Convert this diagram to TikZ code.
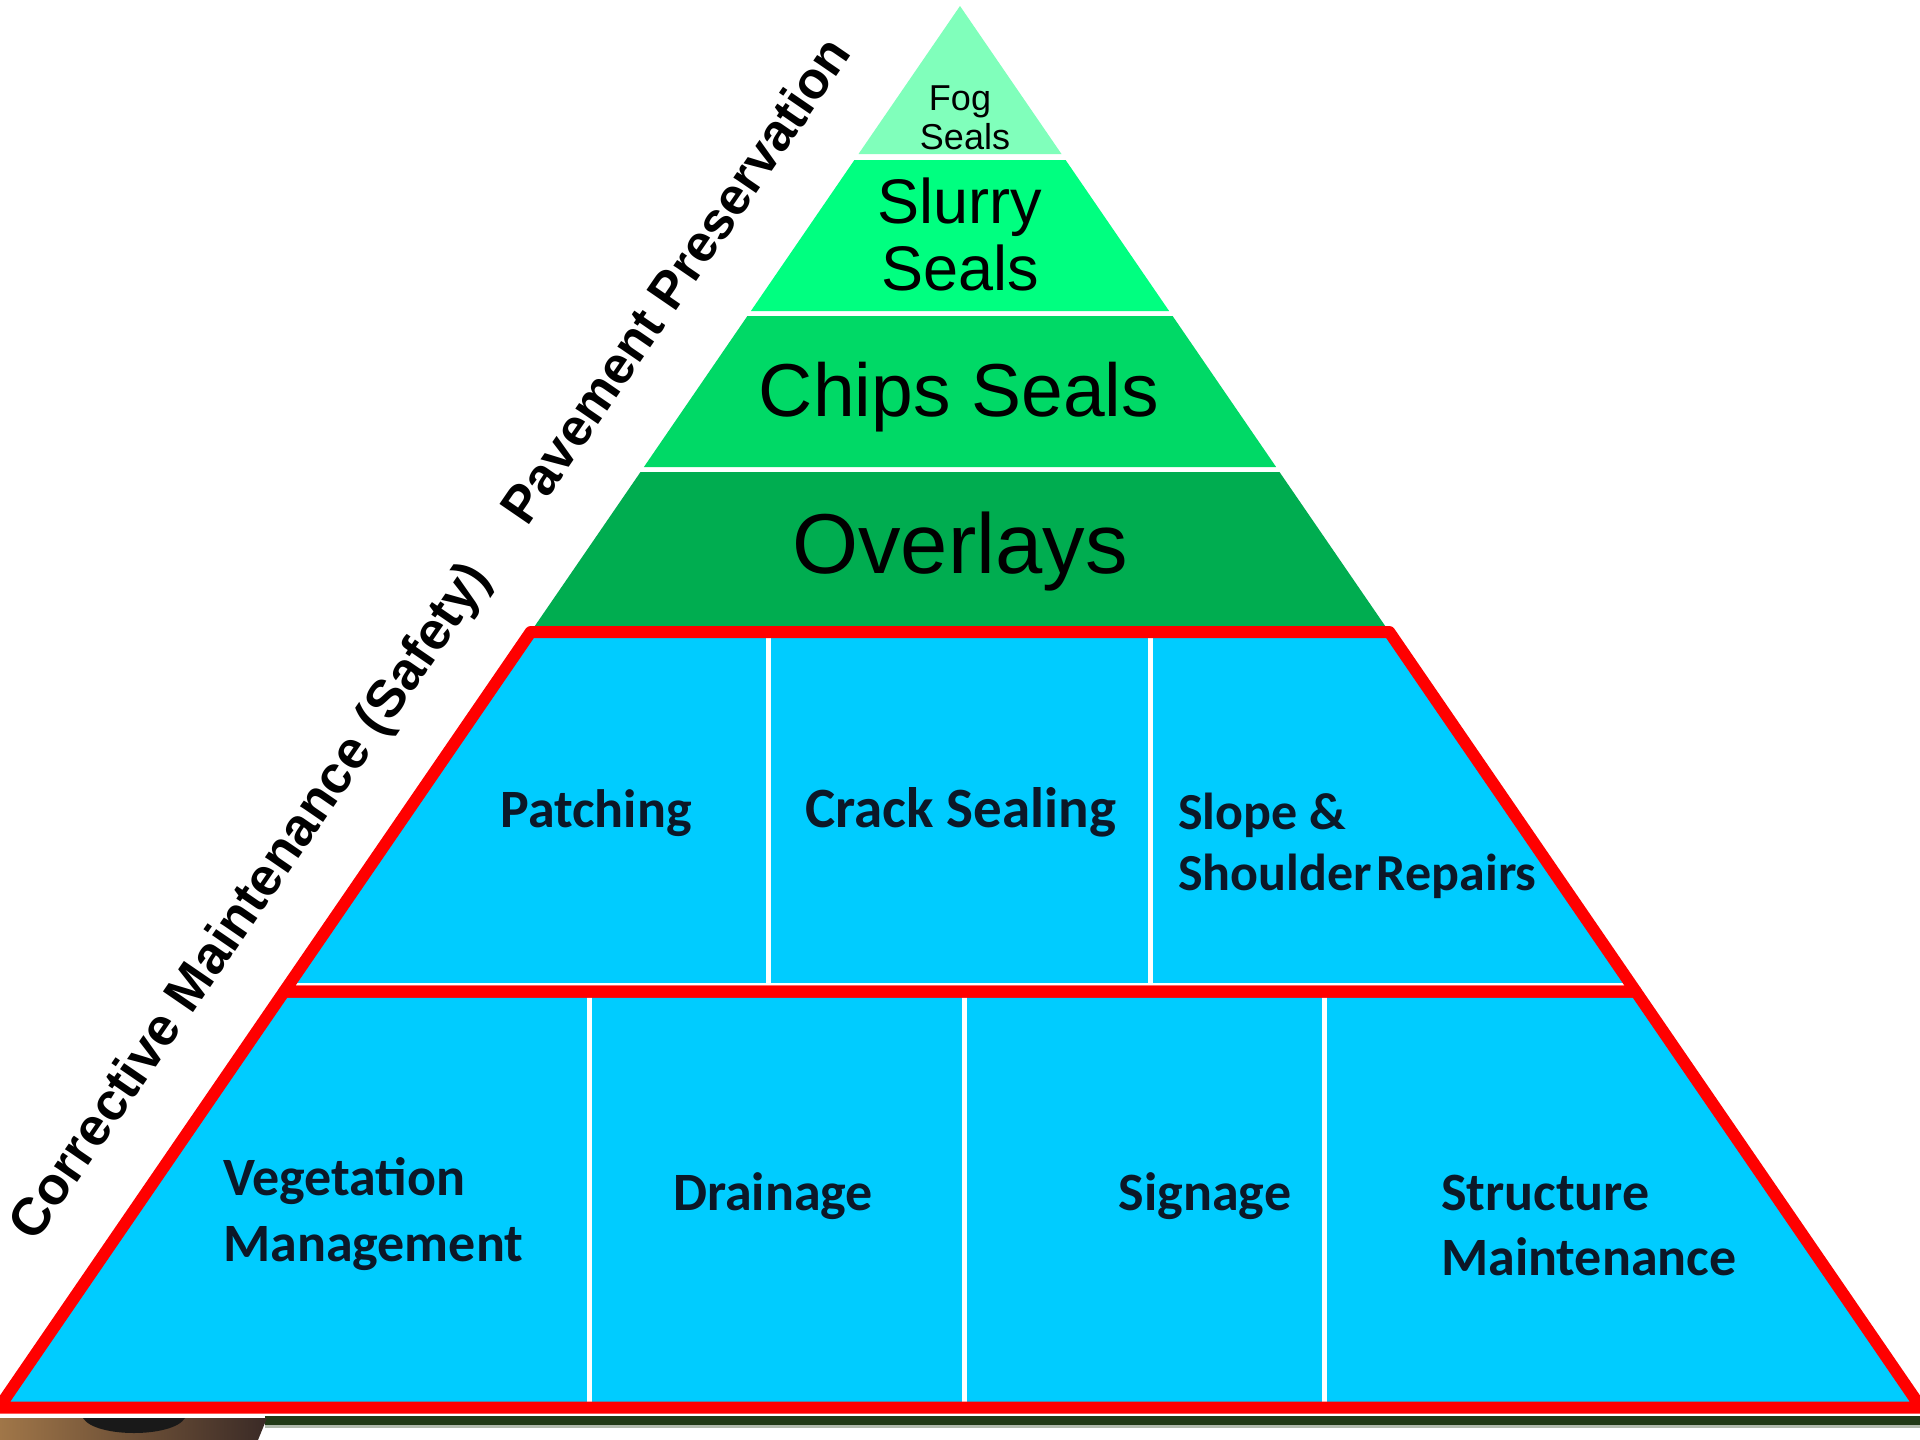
\documentclass[tikz,border=0pt]{standalone}
\usepackage{fontspec}
\setmainfont{Liberation Sans}
\newfontfamily\cellfont{Carlito}

\definecolor{fogc}{RGB}{128,255,187}
\definecolor{slurryc}{RGB}{0,255,128}
\definecolor{chipsc}{RGB}{0,217,102}
\definecolor{overc}{RGB}{0,173,80}
\definecolor{cellc}{RGB}{0,204,255}
\definecolor{cellshade}{RGB}{120,225,255}
\definecolor{framec}{RGB}{255,0,0}
\definecolor{ink}{RGB}{12,24,40}
\definecolor{groundc}{RGB}{33,58,22}
\definecolor{brownL}{RGB}{160,118,72}
\definecolor{brownR}{RGB}{58,42,38}

\tikzset{
  layertext/.style={inner sep=0pt, anchor=base, text=black},
  celltext/.style={inner sep=0pt, text=ink,
    font=\cellfont\bfseries\fontsize{54}{60}\selectfont},
  sidetext/.style={inner sep=0pt, text=black, rotate=55.56,
    font=\bfseries\fontsize{53}{60}\selectfont},
  redframe/.style={draw=framec, line width=12pt, line join=round},
  divider/.style={draw=white, line width=5pt},
}

\begin{document}
\begin{tikzpicture}[x=1pt,y=-1pt]
  % page
  \fill[white] (0,0) rectangle (1920,1440);
  \path[use as bounding box] (0,0) rectangle (1920,1440);

  % corners of the maintenance block (on the pyramid flanks)
  \coordinate (mtl) at (530.7,632);
  \coordinate (mtr) at (1389.3,632);
  \coordinate (mml) at (284.2,991.5);
  \coordinate (mmr) at (1635.8,991.5);
  \coordinate (mbl) at (-1,1407.5);
  \coordinate (mbr) at (1921,1407.5);

  % soft cyan glow along the right flank
  \fill[cellshade, xshift=12pt] (mtl) -- (mtr) -- (mbr) -- (mbl) -- cycle;
  % blue maintenance block
  \fill[cellc] (mtl) -- (mtr) -- (mbr) -- (mbl) -- cycle;

  % cell dividers
  \draw[divider] (768,636) -- (768,988);
  \draw[divider] (1150,636) -- (1150,988);
  \draw[divider] (589,995) -- (589,1404);
  \draw[divider] (964,995) -- (964,1404);
  \draw[divider] (1324,995) -- (1324,1404);
  \draw[white, line width=3pt] (289,984) -- (1631,984);

  % preservation layers
  \fill[fogc]    (960,6) -- (1061.5,154) -- (858.5,154) -- cycle;
  \fill[slurryc] (854.4,160) -- (1065.6,160) -- (1169.1,311) -- (750.9,311) -- cycle;
  \fill[chipsc]  (747.4,316) -- (1172.6,316) -- (1276.1,467) -- (643.9,467) -- cycle;
  \fill[overc]   (640.5,472) -- (1279.5,472) -- (1389.3,632) -- (530.7,632) -- cycle;

  % red frames around the two maintenance rows
  \draw[redframe] (mtl) -- (mtr) -- (mmr) -- (mml) -- cycle;
  \draw[redframe] (mml) -- (mmr) -- (mbr) -- (mbl) -- cycle;

  % strip under the base
  \fill[groundc] (265,1416) rectangle (1920,1425);
  \fill[groundc!35] (265,1425) rectangle (1920,1428);
  \shade[left color=brownL, right color=brownR]
    (0,1418) -- (267,1418) -- (258,1440) -- (0,1440) -- cycle;
  \fill[black!90] (83,1418) .. controls (95,1438) and (173,1438) .. (185,1418) -- cycle;

  % layer labels
  \node[layertext, font=\fontsize{36}{40}\selectfont] (fog1) at (960,110) {Fog};
  \node[layertext, font=\fontsize{36}{40}\selectfont] (fog2) at (965,149) {Seals};
  \node[layertext, font=\fontsize{63}{68}\selectfont] (slurry1) at (960,223) {Slurry};
  \node[layertext, font=\fontsize{63}{68}\selectfont] (slurry2) at (960,290) {Seals};
  \node[layertext, font=\fontsize{75}{80}\selectfont] (chips) at (959,416) {Chips Seals};
  \node[layertext, font=\fontsize{85}{90}\selectfont] (overlays) at (960,573) {Overlays};

  % maintenance cells
  \node[celltext, anchor=base] (patching) at (596,827) {Patching};
  \node[celltext, anchor=base, font=\cellfont\bfseries\fontsize{57}{60}\selectfont]
    (crack) at (961,827) {Crack Sealing};
  \node[celltext, anchor=base west, font=\cellfont\bfseries\fontsize{52}{60}\selectfont]
    (slope1) at (1178,829) {Slope \&};
  \node[celltext, anchor=base west, font=\cellfont\bfseries\fontsize{52}{60}\selectfont]
    (slope2) at (1178,890) {\spaceskip=5pt Shoulder Repairs};
  \node[celltext, anchor=base west] (veg1) at (223,1195) {Vegetation};
  \node[celltext, anchor=base west] (veg2) at (223,1261) {Management};
  \node[celltext, anchor=base] (drainage) at (773,1210) {Drainage};
  \node[celltext, anchor=base] (signage) at (1205,1210) {Signage};
  \node[celltext, anchor=base west] (struct1) at (1441,1210) {Structure};
  \node[celltext, anchor=base west] (struct2) at (1441,1275) {Maintenance};

  % flank labels
  \node[sidetext, font=\bfseries\fontsize{52}{60}\selectfont] (preserve) at (675,280) {Pavement Preservation};
  \node[sidetext] (corrective) at (252,903) {Corrective Maintenance (Safety)};
\end{tikzpicture}
\end{document}
